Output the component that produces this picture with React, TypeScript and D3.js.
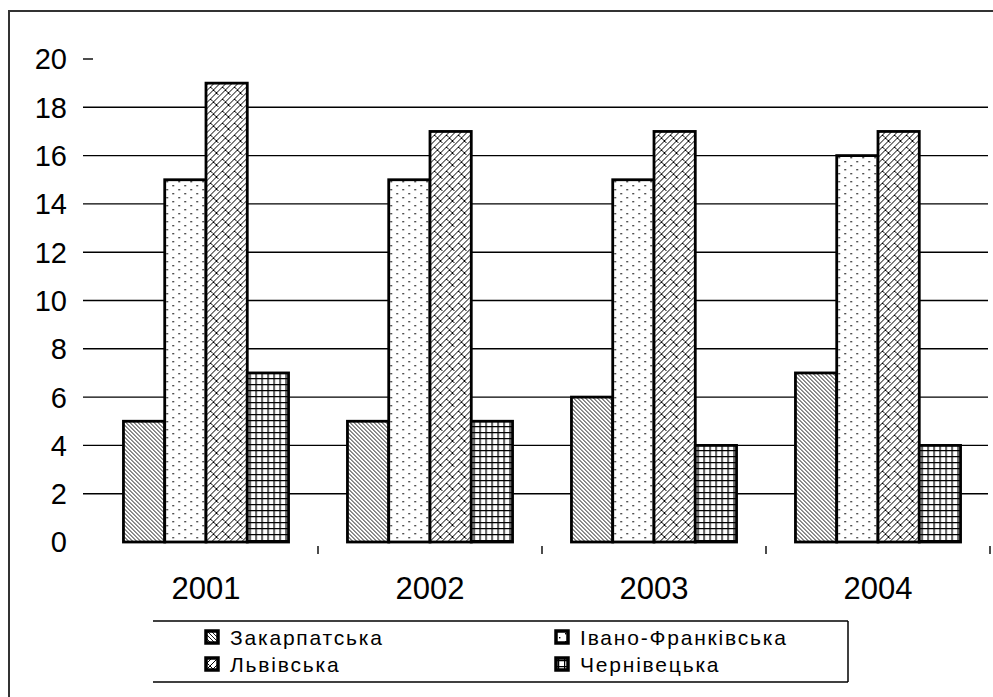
import React from "react";
import * as d3 from "d3";

const years = ["2001", "2002", "2003", "2004"];
const seriesNames = ["Закарпатська", "Івано-Франківська", "Львівська", "Чернівецька"];
const zakarpatska = [5, 5, 6, 7];
const ivanoFrankivska = [15, 15, 15, 16];
const lvivska = [19, 17, 17, 17];
const chernivetska = [7, 5, 4, 4];
const yTicks = [0, 2, 4, 6, 8, 10, 12, 14, 16, 18, 20];

const seriesValues = [zakarpatska, ivanoFrankivska, lvivska, chernivetska];
const patternIds = ["p-diag", "p-dots", "p-zig", "p-grid"];

export default function App() {
  const W = 993;
  const H = 697;
  const x0 = d3.scaleBand<string>().domain(years).range([94, 990]).paddingInner(0.263).paddingOuter(0.1315);
  const x1 = d3.scaleBand<number>().domain([0, 1, 2, 3]).range([0, x0.bandwidth()]);
  const y = d3.scaleLinear().domain([0, 20]).range([542, 59]);
  const font = "'Liberation Sans', Arial, sans-serif";
  const step = x0.step();
  const plotLeft = 94;

  return (
    <svg width={W} height={H} style={{ position: "absolute", left: 0, top: 0, background: "#fff" }}>
      <defs>
        <pattern id="p-diag" patternUnits="userSpaceOnUse" width={4} height={4}>
          <rect width={4} height={4} fill="#fff" />
          <path d="M-1,-1 L5,5 M-1,3 L1,5 M3,-1 L5,1" stroke="#000" strokeWidth={0.9} />
        </pattern>
        <pattern id="p-dots" patternUnits="userSpaceOnUse" width={12} height={8}>
          <rect width={12} height={8} fill="#fff" />
          <rect x={1} y={1} width={1.4} height={1.4} fill="#000" />
          <rect x={7} y={5} width={1.4} height={1.4} fill="#000" />
        </pattern>
        <pattern id="p-zig" patternUnits="userSpaceOnUse" width={12} height={12}>
          <rect width={12} height={12} fill="#fff" />
          <path d="M0,12 L12,0 M6,6 L9,9 M0,6 L6,0 M3,3 L5.5,5.5 M6,12 L12,6 M9,9 L11,11" stroke="#000" strokeWidth={1} fill="none" />
        </pattern>
        <pattern id="p-grid" patternUnits="userSpaceOnUse" width={6} height={6}>
          <rect width={6} height={6} fill="#fff" />
          <path d="M0,0.6 H6 M0.6,0 V6" stroke="#000" strokeWidth={1.3} />
        </pattern>
      </defs>

      {/* outer frame */}
      <rect x={9} y={11} width={1000} height={700} fill="none" stroke="#333" strokeWidth={2} />

      {/* gridlines and y ticks */}
      {yTicks.filter((t) => t > 0).map((t) => (
        <line key={"g" + t} x1={83} x2={t === 20 ? 93 : 988} y1={y(t)} y2={y(t)} stroke="#000" strokeWidth={1.4} />
      ))}
      {yTicks.map((t) => (
        <text key={"yl" + t} x={67} y={y(t)} dy="0.36em" textAnchor="end" fontFamily={font} fontSize={29} fill="#000">
          {t}
        </text>
      ))}

      {/* x ticks */}
      {years.map((yr, i) => (
        <line key={"xt" + yr} x1={plotLeft + step * (i + 1)} x2={plotLeft + step * (i + 1)} y1={546} y2={554} stroke="#000" strokeWidth={1.4} />
      ))}

      {/* bars */}
      {years.map((yr, i) => (
        <g key={yr} transform={`translate(${x0(yr)},0)`}>
          {seriesValues.map((vals, s) => (
            <rect
              key={s}
              x={x1(s)}
              y={y(vals[i])}
              width={x1.bandwidth()}
              height={y(0) - y(vals[i])}
              fill={`url(#${patternIds[s]})`}
              stroke="#000"
              strokeWidth={2.8}
            />
          ))}
        </g>
      ))}

      {/* x labels */}
      {years.map((yr) => (
        <text key={"xl" + yr} x={(x0(yr) as number) + x0.bandwidth() / 2} y={599} textAnchor="middle" fontFamily={font} fontSize={31} fill="#000">
          {yr}
        </text>
      ))}

      {/* legend */}
      <line x1={153} x2={848} y1={621} y2={621} stroke="#000" strokeWidth={1.5} />
      <line x1={153} x2={848} y1={682} y2={682} stroke="#000" strokeWidth={1.5} />
      <line x1={848} x2={848} y1={621} y2={682} stroke="#000" strokeWidth={1.5} />
      {seriesNames.map((name, s) => {
        const col = s % 2;
        const row = Math.floor(s / 2);
        const sx = col === 0 ? 206 : 556;
        const sy = row === 0 ? 631 : 658;
        return (
          <g key={name}>
            <rect x={sx} y={sy} width={12} height={12} fill={`url(#${patternIds[s]})`} stroke="#000" strokeWidth={3.5} />
            <text x={sx + 24} y={sy + 14} fontFamily={font} fontSize={21} letterSpacing={1.8} fill="#000">
              {name}
            </text>
          </g>
        );
      })}
    </svg>
  );
}
